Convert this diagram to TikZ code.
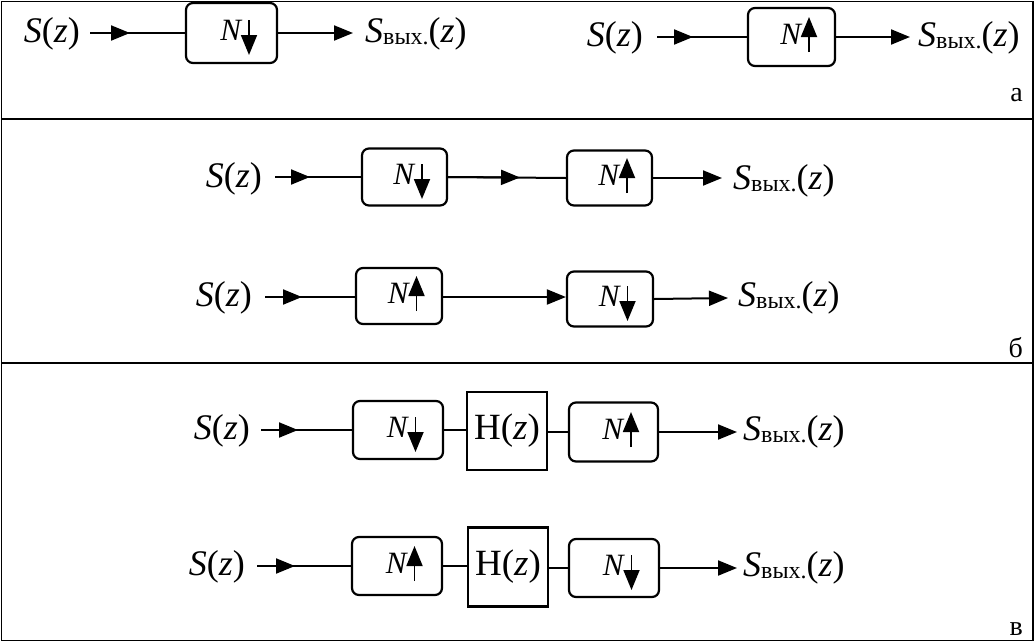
\documentclass[tikz,border=0pt]{standalone}
\usepackage{fontspec}
\setmainfont{Liberation Serif}
\usetikzlibrary{arrows.meta}
\newcommand{\mySz}{\textit{S}(\textit{z})}
\newcommand{\myOut}{\textit{S}\raisebox{-2pt}{\fontsize{24}{26}\selectfont вых.}(\textit{z})}
\newcommand{\myHz}{H(\textit{z})}
\newcommand{\myN}{\raisebox{3pt}[\height][\depth]{\textit{N}}\hspace{7pt}}
\tikzset{
 panel/.style={line width=1.7pt},
 conn/.style={line width=2pt},
 arr/.style={-{Triangle[length=19pt,width=15pt]}},
 nbox/.style={draw, line width=2.2pt, rounded corners=7pt, inner sep=0pt, font=\fontsize{31}{33}\selectfont},
 hbox/.style={draw, line width=2.2pt, inner sep=0pt, font=\fontsize{37}{42}\selectfont},
 sig/.style={inner sep=0pt, font=\fontsize{36}{42}\selectfont},
 lettertag/.style={inner sep=0pt, anchor=base east, font=\fontsize{28}{32}\selectfont},
 narr/.style={line width=1.8pt, -{Triangle[length=20pt,width=16pt]}},
}
\newcommand{\mydown}[1]{\draw[narr] ([xshift=17.5pt,yshift=13pt]#1.center) -- ([xshift=17.5pt,yshift=-22pt]#1.center);}
\newcommand{\myup}[1]{\draw[narr] ([xshift=17.5pt,yshift=-15pt]#1.center) -- ([xshift=17.5pt,yshift=20pt]#1.center);}
\begin{document}
\begin{tikzpicture}[x=1pt,y=-1pt]
\useasboundingbox (0,0) rectangle (1035,643);
% frame
\draw[panel] (1.5,1.5) rectangle (1033,640.5);
\draw[panel] (1.5,119) -- (1033,119);
\draw[panel] (1.5,363) -- (1033,363);
\node[lettertag] (ta) at (1023,101) {а};
\node[lettertag] (tb) at (1023,357) {б};
\node[lettertag] (tc) at (1023,635) {в};

% panel a left
\node[sig, anchor=east] (aIn) at (80,34) {\mySz};
\node[nbox, minimum width=91pt, minimum height=60pt] (aB) at (231.5,33) {\myN};
\node[sig, anchor=west] (aOut) at (365,34) {\myOut};
\coordinate (aS) at (90,33); \coordinate (aT) at (130,33); \coordinate (aE) at (353,33);
\draw[conn] (aS) -- (aB.west);
\draw[conn,arr] (aS) -- (aT);
\draw[conn,arr] (aB.east) -- (aE);
\mydown{aB}

% panel a right
\node[sig, anchor=east] (a2In) at (643,38) {\mySz};
\node[nbox, minimum width=87pt, minimum height=58pt] (a2B) at (791.5,37) {\myN};
\node[sig, anchor=west] (a2Out) at (918,38) {\myOut};
\coordinate (a2S) at (657,37); \coordinate (a2T) at (693,37); \coordinate (a2E) at (910,37);
\draw[conn] (a2S) -- (a2B.west);
\draw[conn,arr] (a2S) -- (a2T);
\draw[conn,arr] (a2B.east) -- (a2E);
\myup{a2B}

% panel b row 1
\node[sig, anchor=east] (bIn) at (262,179) {\mySz};
\node[nbox, minimum width=85pt, minimum height=57pt] (b1) at (404.5,177) {\myN};
\node[nbox, minimum width=85pt, minimum height=55pt] (b2) at (609.5,178) {\myN};
\node[sig, anchor=west] (bOut) at (733,181) {\myOut};
\coordinate (bS) at (275,177); \coordinate (bT) at (310,177);
\coordinate (bM) at (520,177.5); \coordinate (bE) at (722,178);
\draw[conn] (bS) -- (b1.west);
\draw[conn,arr] (bS) -- (bT);
\draw[conn] (b1.east) -- (b2.west);
\draw[conn,arr] (b1.east) -- (bM);
\draw[conn,arr] (b2.east) -- (bE);
\mydown{b1}
\myup{b2}

% panel b row 2
\node[sig, anchor=east] (cIn) at (252,298) {\mySz};
\node[nbox, minimum width=86pt, minimum height=56pt] (c1) at (399,296) {\myN};
\node[nbox, minimum width=86pt, minimum height=55pt] (c2) at (610,299) {\myN};
\node[sig, anchor=west] (cOut) at (738,298) {\myOut};
\coordinate (cS) at (265,297); \coordinate (cT) at (302,297); \coordinate (cE) at (728,298);
\draw[conn] (cS) -- (c1.west |- cS);
\draw[conn,arr] (cS) -- (cT);
\draw[conn,arr] (c1.east |- cS) -- (c2.west |- cS);
\draw[conn,arr] (c2.east) -- (cE);
\myup{c1}
\mydown{c2}

% panel v row 1
\node[sig, anchor=east] (dIn) at (250,431) {\mySz};
\node[nbox, minimum width=90pt, minimum height=58pt] (d1) at (398,430) {\myN};
\node[hbox, minimum width=80pt, minimum height=78pt] (d2) at (507,431) {\myHz};
\node[nbox, minimum width=89pt, minimum height=59pt] (d3) at (613.5,432) {\myN};
\node[sig, anchor=west] (dOut) at (743,432) {\myOut};
\coordinate (dS) at (261,430); \coordinate (dT) at (298,430); \coordinate (dE) at (737,432);
\draw[conn] (dS) -- (d1.west);
\draw[conn,arr] (dS) -- (dT);
\draw[conn] (d1.east) -- (d2.west |- d1.east);
\draw[conn] (d2.east |- d3.west) -- (d3.west);
\draw[conn,arr] (d3.east) -- (dE);
\mydown{d1}
\myup{d3}

% panel v row 2
\node[sig, anchor=east] (eIn) at (245,567) {\mySz};
\node[nbox, minimum width=90pt, minimum height=58pt] (e1) at (397,566) {\myN};
\node[hbox, minimum width=80pt, minimum height=79pt] (e2) at (508,567) {\myHz};
\node[nbox, minimum width=90pt, minimum height=58pt] (e3) at (614,568) {\myN};
\node[sig, anchor=west] (eOut) at (743,568) {\myOut};
\coordinate (eS) at (257,566); \coordinate (eT) at (295,566); \coordinate (eE) at (737,568);
\draw[conn] (eS) -- (e1.west);
\draw[conn,arr] (eS) -- (eT);
\draw[conn] (e1.east) -- (e2.west |- e1.east);
\draw[conn] (e2.east |- e3.west) -- (e3.west);
\draw[conn,arr] (e3.east) -- (eE);
\myup{e1}
\mydown{e3}
\end{tikzpicture}
\end{document}
